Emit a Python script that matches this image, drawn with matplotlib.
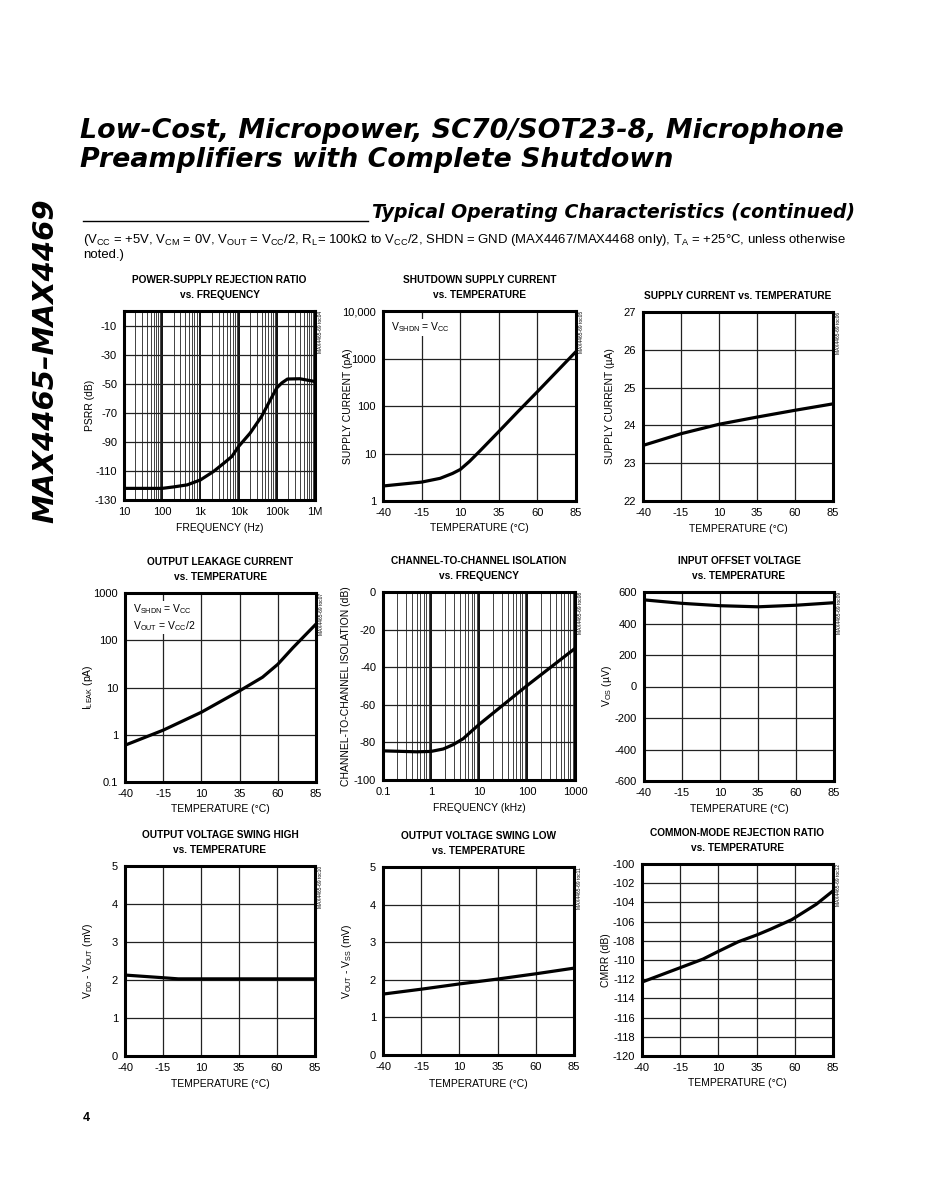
import matplotlib
matplotlib.use("Agg")
import matplotlib.pyplot as plt
from matplotlib.ticker import LogLocator, NullFormatter
import numpy as np

W, H = 944, 1199

# values
psrr_freq = [10, 30, 100, 200, 450, 1000, 2200, 4100, 6700, 10e3, 20e3, 40e3, 65e3, 100e3, 135e3, 190e3, 400e3, 1e6]
psrr_db = [-122, -122, -122, -121, -119.6, -116.2, -110.4, -104.7, -100, -93.2, -84, -72.5, -62, -52.9, -49.5, -46.8, -46.6, -48.5]

shdn_temp = [-40, -15, -3, 5, 10, 16, 23, 35, 47, 60, 85]
shdn_pa = [2.07, 2.5, 3.0, 3.8, 4.6, 6.8, 11.5, 29, 74, 200, 1400]

icc_temp = [-40, -15, 10, 35, 60, 85]
icc_ua = [23.47, 23.78, 24.03, 24.22, 24.4, 24.57]

leak_temp = [-40, -15, 10, 35, 50, 60, 70, 85]
leak_pa = [0.6, 1.25, 3.0, 8.5, 16.5, 31, 70, 220]

iso_freq = [0.1, 0.5, 1, 1.8, 2.9, 4.7, 7, 10, 23, 100, 1000]
iso_db = [-84.5, -85, -84.8, -83.5, -81.2, -78, -74, -70.5, -63, -49.8, -30]

vos_temp = [-40, -15, 10, 35, 60, 85]
vos_uv = [550, 528, 513, 506, 516, 532]

voh_temp = [-40, -15, -5, 10, 35, 60, 85]
voh_mv = [2.13, 2.06, 2.03, 2.03, 2.03, 2.03, 2.03]

vol_temp = [-40, -15, 10, 35, 60, 85]
vol_mv = [1.62, 1.75, 1.89, 2.02, 2.16, 2.31]

cmrr_temp = [-40, -15, 0, 10, 23, 35, 44, 58, 74, 85]
cmrr_db = [-112.3, -110.8, -109.9, -109.1, -108.1, -107.4, -106.8, -105.8, -104.2, -102.8]

temp_ticks = [-40, -15, 10, 35, 60, 85]

plt.rcParams["font.family"] = ["Liberation Sans", "DejaVu Sans"]
plt.rcParams["axes.unicode_minus"] = False
plt.rcParams["mathtext.fontset"] = "custom"
plt.rcParams["mathtext.rm"] = "Liberation Sans"

fig = plt.figure(figsize=(W / 100, H / 100), dpi=100)


def rect(l, t, r, b):
    return [l / W, 1 - b / H, (r - l) / W, (b - t) / H]


def fx(x):
    return x / W


def fy(y):
    return 1 - y / H


def make_axes(box, title, ylabel, xlabel, ylab_x, xlab_y, toc):
    l, t, r, b = box
    ax = fig.add_axes(rect(l, t, r, b))
    for s in ax.spines.values():
        s.set_linewidth(2.2)
    ax.tick_params(which="both", length=0, labelsize=8, pad=5)
    ax.set_ylabel(ylabel, fontsize=7.5)
    ax.set_xlabel(xlabel, fontsize=7.5)
    ax.yaxis.set_label_coords((ylab_x + 5 - l) / (r - l), 0.5)
    ax.xaxis.set_label_coords(0.5, -(xlab_y - 5 - b) / (b - t))
    cx = (l + r) / 2
    lines = title.split("\n")
    if len(lines) == 2:
        fig.text(fx(cx), fy(t - 31), lines[0], ha="center", va="center", fontsize=7.3, fontweight="bold")
        fig.text(fx(cx), fy(t - 16), lines[1], ha="center", va="center", fontsize=7.3, fontweight="bold")
    else:
        fig.text(fx(cx), fy(t - 16), lines[0], ha="center", va="center", fontsize=7.3, fontweight="bold")
    fig.text(fx(r + 3), fy(t), "MAX4465-69 " + toc, rotation=90, ha="left", va="top", fontsize=3.5)
    return ax


def temp_axis(ax):
    ax.set_xlim(-40, 85)
    ax.set_xticks(temp_ticks)
    ax.grid(True, which="major", color="#222222", lw=0.9)


def log_grid(ax, axis):
    a = ax.xaxis if axis == "x" else ax.yaxis
    a.set_minor_locator(LogLocator(base=10, subs=np.arange(2, 10)))
    a.set_minor_formatter(NullFormatter())


line_kw = dict(color="black", lw=2.3, solid_capstyle="butt")

# row 1
ax = make_axes((124, 311, 315, 500), "POWER-SUPPLY REJECTION RATIO\nvs. FREQUENCY", "PSRR (dB)", "FREQUENCY (Hz)", 90, 528, "toc04")
ax.set_xscale("log")
ax.set_xlim(10, 1e6)
ax.set_ylim(-130, 0)
ax.set_yticks(np.arange(-130, 0, 20))
ax.set_xticks([10, 100, 1e3, 1e4, 1e5, 1e6], ["10", "100", "1k", "10k", "100k", "1M"])
log_grid(ax, "x")
ax.grid(True, which="major", color="#111111", lw=1.4, axis="x")
ax.grid(True, which="major", color="#222222", lw=0.9, axis="y")
ax.grid(True, which="minor", color="#222222", lw=0.6, axis="x")
ax.plot(psrr_freq, psrr_db, **line_kw)

ax = make_axes((383, 311, 576, 501), "SHUTDOWN SUPPLY CURRENT\nvs. TEMPERATURE", "SUPPLY CURRENT (pA)", "TEMPERATURE (°C)", 348, 528, "toc05")
ax.set_yscale("log")
ax.set_ylim(1, 1e4)
ax.set_yticks([1, 10, 100, 1000, 1e4], ["1", "10", "100", "1000", "10,000"])
ax.yaxis.set_minor_locator(plt.NullLocator())
temp_axis(ax)
ax.plot(shdn_temp, shdn_pa, **line_kw)
ax.text(0.04, 0.95, r"V$_{\mathregular{SHDN}}$ = V$_{\mathregular{CC}}$", transform=ax.transAxes, fontsize=7.5,
        ha="left", va="top", bbox=dict(fc="white", ec="none", pad=1))

ax = make_axes((643, 312, 833, 501), "SUPPLY CURRENT vs. TEMPERATURE", "SUPPLY CURRENT (µA)", "TEMPERATURE (°C)", 610, 529, "toc06")
ax.set_ylim(22, 27)
ax.set_yticks(np.arange(22, 28, 1))
temp_axis(ax)
ax.plot(icc_temp, icc_ua, **line_kw)

# row 2
ax = make_axes((125, 593, 316, 782), "OUTPUT LEAKAGE CURRENT\nvs. TEMPERATURE", r"I$_{\mathregular{LEAK}}$ (pA)", "TEMPERATURE (°C)", 90, 809, "toc07")
ax.set_yscale("log")
ax.set_ylim(0.1, 1000)
ax.set_yticks([0.1, 1, 10, 100, 1000], ["0.1", "1", "10", "100", "1000"])
ax.yaxis.set_minor_locator(plt.NullLocator())
temp_axis(ax)
ax.plot(leak_temp, leak_pa, **line_kw)
ax.text(0.04, 0.95, "V$_{\\mathregular{SHDN}}$ = V$_{\\mathregular{CC}}$\nV$_{\\mathregular{OUT}}$ = V$_{\\mathregular{CC}}$/2",
        transform=ax.transAxes, fontsize=7.5, ha="left", va="top", linespacing=1.3,
        bbox=dict(fc="white", ec="none", pad=1))

ax = make_axes((383, 592, 575, 780), "CHANNEL-TO-CHANNEL ISOLATION\nvs. FREQUENCY", "CHANNEL-TO-CHANNEL ISOLATION (dB)", "FREQUENCY (kHz)", 346, 808, "toc08")
ax.set_xscale("log")
ax.set_xlim(0.1, 1000)
ax.set_ylim(-100, 0)
ax.set_yticks(np.arange(-100, 1, 20))
ax.set_xticks([0.1, 1, 10, 100, 1000], ["0.1", "1", "10", "100", "1000"])
log_grid(ax, "x")
ax.grid(True, which="major", color="#111111", lw=1.4, axis="x")
ax.grid(True, which="major", color="#222222", lw=0.9, axis="y")
ax.grid(True, which="minor", color="#222222", lw=0.6, axis="x")
ax.plot(iso_freq, iso_db, **line_kw)

ax = make_axes((644, 592, 834, 781), "INPUT OFFSET VOLTAGE\nvs. TEMPERATURE", r"V$_{\mathregular{OS}}$ (µV)", "TEMPERATURE (°C)", 609, 809, "toc09")
ax.set_ylim(-600, 600)
ax.set_yticks(np.arange(-600, 601, 200))
temp_axis(ax)
ax.plot(vos_temp, vos_uv, **line_kw)

# row 3
ax = make_axes((125, 866, 315, 1056), "OUTPUT VOLTAGE SWING HIGH\nvs. TEMPERATURE", r"V$_{\mathregular{DD}}$ - V$_{\mathregular{OUT}}$ (mV)", "TEMPERATURE (°C)", 90, 1084, "toc10")
ax.set_ylim(0, 5)
ax.set_yticks(np.arange(0, 6, 1))
temp_axis(ax)
ax.plot(voh_temp, voh_mv, **line_kw)

ax = make_axes((383, 867, 574, 1055), "OUTPUT VOLTAGE SWING LOW\nvs. TEMPERATURE", r"V$_{\mathregular{OUT}}$ - V$_{\mathregular{SS}}$ (mV)", "TEMPERATURE (°C)", 349, 1084, "toc11")
ax.set_ylim(0, 5)
ax.set_yticks(np.arange(0, 6, 1))
temp_axis(ax)
ax.plot(vol_temp, vol_mv, **line_kw)

ax = make_axes((642, 864, 833, 1056), "COMMON-MODE REJECTION RATIO\nvs. TEMPERATURE", "CMRR (dB)", "TEMPERATURE (°C)", 606, 1083, "toc12")
ax.set_ylim(-120, -100)
ax.set_yticks(np.arange(-120, -99, 2))
temp_axis(ax)
ax.plot(cmrr_temp, cmrr_db, **line_kw)

# page header
HEAD = ["DejaVu Sans"]
fig.text(fx(80), fy(131), "Low-Cost, Micropower, SC70/SOT23-8, Microphone", family=HEAD, fontsize=19.35,
         fontweight="bold", style="italic", ha="left", va="center")
fig.text(fx(80), fy(160), "Preamplifiers with Complete Shutdown", family=HEAD, fontsize=19.35,
         fontweight="bold", style="italic", ha="left", va="center")
fig.text(fx(855), fy(213), "Typical Operating Characteristics (continued)", family=HEAD, fontsize=13.6,
         fontweight="bold", style="italic", ha="right", va="center")
fig.add_artist(plt.Line2D([fx(83), fx(368)], [fy(221), fy(221)], color="black", lw=1.0))
fig.text(fx(83), fy(240),
         r"(V$_{\mathregular{CC}}$ = +5V, V$_{\mathregular{CM}}$ = 0V, V$_{\mathregular{OUT}}$ = V$_{\mathregular{CC}}$/2, "
         r"R$_{\mathregular{L}}$= 100kΩ to V$_{\mathregular{CC}}$/2, SHDN = GND (MAX4467/MAX4468 only), "
         r"T$_{\mathregular{A}}$ = +25°C, unless otherwise",
         fontsize=9.45, ha="left", va="center")
fig.text(fx(83), fy(255), "noted.)", fontsize=9.45, ha="left", va="center")
fig.text(fx(45), fy(361), "MAX4465–MAX4469", family=HEAD, fontsize=21, fontweight="bold", style="italic",
         rotation=90, ha="center", va="center")
fig.text(fx(83), fy(1118), "4", fontsize=9, fontweight="bold", ha="left", va="center")

fig.savefig("out.png", dpi=100)
